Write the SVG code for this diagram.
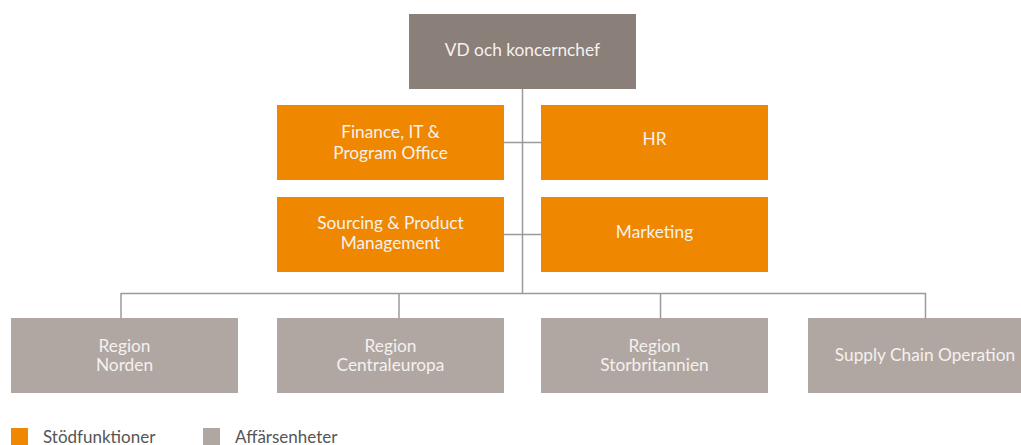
<svg xmlns="http://www.w3.org/2000/svg" width="1021" height="445" viewBox="0 0 1021 445">
<style>
.t{font-family:"Lato","Open Sans",sans-serif;font-size:17.3px;fill:#f5f1ee;text-anchor:middle}
.o{fill:#f08700}
.g{fill:#b0a7a2}
.c{fill:none;stroke:#9a9a9a;stroke-width:1.5}
.l{font-family:"Lato","Open Sans",sans-serif;font-size:17px;fill:#555}
</style>
<rect width="1021" height="445" fill="#fff"/>
<g id="connectors">
<path class="c" d="M522.5 89V293.5M504 142.5H541M504 234.5H541M121 293.5H925.5M121 293V318M399 293V318M660.5 293V318M925.5 293V318"/>
</g>
<g id="vd"><rect x="409" y="14" width="227" height="75" fill="#8a7f79"/><text class="t" x="522.5" y="56">VD och koncernchef</text></g>
<g id="finance"><rect class="o" x="277" y="105" width="227" height="75"/><text class="t" x="390.5" y="138">Finance, IT &amp;</text><text class="t" x="390.5" y="159">Program Office</text></g>
<g id="hr"><rect class="o" x="541" y="105" width="227" height="75"/><text class="t" x="654.5" y="145">HR</text></g>
<g id="sourcing"><rect class="o" x="277" y="197" width="227" height="75"/><text class="t" x="390.5" y="229">Sourcing &amp; Product</text><text class="t" x="390.5" y="249">Management</text></g>
<g id="marketing"><rect class="o" x="541" y="197" width="227" height="75"/><text class="t" x="654.5" y="238">Marketing</text></g>
<g id="norden"><rect class="g" x="11" y="318" width="227" height="75"/><text class="t" x="124.5" y="352">Region</text><text class="t" x="124.5" y="371">Norden</text></g>
<g id="centraleuropa"><rect class="g" x="277" y="318" width="227" height="75"/><text class="t" x="390.5" y="352">Region</text><text class="t" x="390.5" y="371">Centraleuropa</text></g>
<g id="storbritannien"><rect class="g" x="541" y="318" width="227" height="75"/><text class="t" x="654.5" y="352">Region</text><text class="t" x="654.5" y="371">Storbritannien</text></g>
<g id="supply"><rect class="g" x="808" y="318" width="227" height="75"/><text class="t" x="925" y="361">Supply Chain Operation</text></g>
<g id="legend">
<rect class="o" x="11" y="428" width="17" height="17"/><text class="l" x="43" y="443">Stödfunktioner</text>
<rect class="g" x="203" y="428" width="17" height="17"/><text class="l" x="235" y="443">Affärsenheter</text>
</g>
</svg>
